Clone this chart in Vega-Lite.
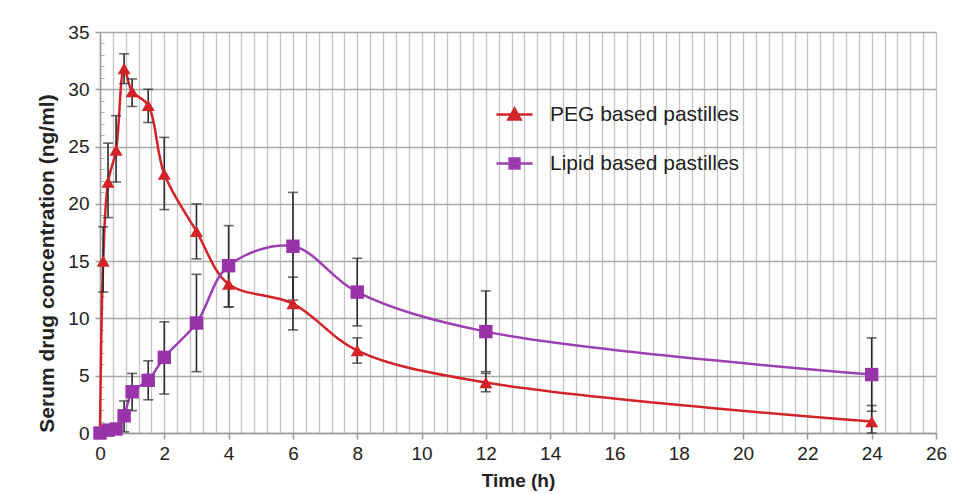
{
  "$schema": "https://vega.github.io/schema/vega-lite/v6.json",
  "width": 836,
  "height": 401,
  "autosize": "none",
  "padding": {"left": 100, "top": 32, "right": 19, "bottom": 61},
  "background": "white",
  "config": {"view": {"stroke": null}, "font": "Liberation Sans"},
  "data": {
    "values": [
      {"series": "PEG based pastilles", "t": 0, "c": 0, "lo": null, "hi": null},
      {"series": "PEG based pastilles", "t": 0.1, "c": 15.0, "lo": 12.3, "hi": 18.0},
      {"series": "PEG based pastilles", "t": 0.25, "c": 21.9, "lo": 18.8, "hi": 25.3},
      {"series": "PEG based pastilles", "t": 0.5, "c": 24.7, "lo": 21.9, "hi": 27.7},
      {"series": "PEG based pastilles", "t": 0.75, "c": 31.8, "lo": 30.5, "hi": 33.1},
      {"series": "PEG based pastilles", "t": 1, "c": 29.8, "lo": 28.5, "hi": 30.9},
      {"series": "PEG based pastilles", "t": 1.5, "c": 28.6, "lo": 27.1, "hi": 30.0},
      {"series": "PEG based pastilles", "t": 2, "c": 22.6, "lo": 19.5, "hi": 25.8},
      {"series": "PEG based pastilles", "t": 3, "c": 17.6, "lo": 15.2, "hi": 20.0},
      {"series": "PEG based pastilles", "t": 4, "c": 13.0, "lo": 11.0, "hi": 15.0},
      {"series": "PEG based pastilles", "t": 6, "c": 11.3, "lo": 9.0, "hi": 13.6},
      {"series": "PEG based pastilles", "t": 8, "c": 7.2, "lo": 6.1, "hi": 8.3},
      {"series": "PEG based pastilles", "t": 12, "c": 4.4, "lo": 3.6, "hi": 5.2},
      {"series": "PEG based pastilles", "t": 24, "c": 1.0, "lo": 0, "hi": 2.4},
      {"series": "Lipid based pastilles", "t": 0, "c": 0, "lo": null, "hi": null},
      {"series": "Lipid based pastilles", "t": 0.25, "c": 0.25, "lo": null, "hi": null},
      {"series": "Lipid based pastilles", "t": 0.5, "c": 0.35, "lo": null, "hi": null},
      {"series": "Lipid based pastilles", "t": 0.75, "c": 1.5, "lo": 0.1, "hi": 2.8},
      {"series": "Lipid based pastilles", "t": 1, "c": 3.6, "lo": 1.95, "hi": 5.2},
      {"series": "Lipid based pastilles", "t": 1.5, "c": 4.6, "lo": 2.9, "hi": 6.3},
      {"series": "Lipid based pastilles", "t": 2, "c": 6.6, "lo": 3.4, "hi": 9.7},
      {"series": "Lipid based pastilles", "t": 3, "c": 9.6, "lo": 5.35, "hi": 13.85},
      {"series": "Lipid based pastilles", "t": 4, "c": 14.6, "lo": 11.0, "hi": 18.1},
      {"series": "Lipid based pastilles", "t": 6, "c": 16.3, "lo": 11.6, "hi": 21.0},
      {"series": "Lipid based pastilles", "t": 8, "c": 12.3, "lo": 9.35, "hi": 15.25},
      {"series": "Lipid based pastilles", "t": 12, "c": 8.85, "lo": 5.35, "hi": 12.4},
      {"series": "Lipid based pastilles", "t": 24, "c": 5.1, "lo": 1.9, "hi": 8.3}
    ]
  },
  "resolve": {"axis": {"x": "independent", "y": "independent"}},
  "layer": [
    {
      "mark": {"type": "line", "interpolate": "catmull-rom", "strokeWidth": 2.5},
      "encoding": {
        "x": {"field": "t", "type": "quantitative", "scale": {"domain": [0, 26], "nice": false},
          "axis": {"orient": "bottom", "values": [0,0.4,0.8,1.2,1.6,2,2.4,2.8,3.2,3.6,4,4.4,4.8,5.2,5.6,6,6.4,6.8,7.2,7.6,8,8.4,8.8,9.2,9.6,10,10.4,10.8,11.2,11.6,12,12.4,12.8,13.2,13.6,14,14.4,14.8,15.2,15.6,16,16.4,16.8,17.2,17.6,18,18.4,18.8,19.2,19.6,20,20.4,20.8,21.2,21.6,22,22.4,22.8,23.2,23.6,24,24.4,24.8,25.2,25.6,26],
            "grid": true, "gridColor": "#c4c4c4", "gridWidth": 1.3, "labels": false, "ticks": false, "domain": false, "title": null}},
        "y": {"field": "c", "type": "quantitative", "scale": {"domain": [0, 35], "nice": false},
          "axis": {"orient": "left", "values": [0,5,10,15,20,25,30,35], "grid": true, "gridColor": "#a9a9a9", "gridWidth": 1.6, "labels": false, "ticks": false, "domain": false, "title": null}},
        "color": {"field": "series", "type": "nominal",
          "scale": {"domain": ["Lipid based pastilles", "PEG based pastilles"], "range": ["#9c3fb2", "#d42328"]}, "legend": null}
      }
    },
    {
      "transform": [{"filter": "datum.lo != null"}],
      "mark": {"type": "errorbar", "ticks": {"size": 10, "thickness": 1.6}, "thickness": 1.6, "color": "#2a2a2a"},
      "encoding": {
        "x": {"field": "t", "type": "quantitative", "axis": null},
        "y": {"field": "lo", "type": "quantitative",
          "axis": {"orient": "left", "values": [0,1,2,3,4,6,7,8,9,11,12,13,14,16,17,18,19,21,22,23,24,26,27,28,29,31,32,33,34], "tickSize": -4, "tickColor": "#b0b0b0", "tickWidth": 1, "labels": false, "domain": false, "grid": false, "title": null}},
        "y2": {"field": "hi"}
      }
    },
    {
      "transform": [{"filter": "datum.series == 'PEG based pastilles'"}],
      "mark": {"type": "point", "shape": "triangle-up", "filled": true, "size": 170, "opacity": 1, "color": "#d42328"},
      "encoding": {
        "x": {"field": "t", "type": "quantitative",
          "axis": {"orient": "bottom", "values": [0,2,4,6,8,10,12,14,16,18,20,22,24,26], "grid": false, "labelFlush": false, "domain": true, "domainColor": "#9a9a9a", "domainWidth": 1.5, "tickColor": "#9a9a9a", "tickSize": 6, "tickWidth": 1.5, "labelFontSize": 19, "labelColor": "#222", "labelPadding": 5, "title": "Time (h)", "titleFontSize": 19, "titleFontWeight": "bold", "titleColor": "#222", "titlePadding": 8}},
        "y": {"field": "c", "type": "quantitative",
          "axis": {"orient": "left", "values": [0,5,10,15,20,25,30,35], "grid": false, "labelFlush": false, "domain": true, "domainColor": "#9a9a9a", "domainWidth": 1.5, "tickColor": "#9a9a9a", "tickSize": 5, "tickWidth": 1.5, "labelFontSize": 19, "labelColor": "#222", "labelPadding": 6, "title": "Serum drug concentration (ng/ml)", "titleFontSize": 21, "titleFontWeight": "bold", "titleColor": "#222", "titlePadding": 10, "titleY": 231}}
      }
    },
    {
      "transform": [{"filter": "datum.series == 'Lipid based pastilles'"}],
      "mark": {"type": "point", "shape": "square", "filled": true, "size": 180, "opacity": 1, "color": "#9933aa"},
      "encoding": {
        "x": {"field": "t", "type": "quantitative", "axis": null},
        "y": {"field": "c", "type": "quantitative", "axis": null}
      }
    },
    {
      "mark": {"type": "point", "filled": true, "size": 0, "strokeWidth": 2.5},
      "encoding": {
        "x": {"field": "t", "type": "quantitative", "axis": null},
        "y": {"field": "c", "type": "quantitative", "axis": null},
        "fill": {"field": "series", "type": "nominal",
          "scale": {"domain": ["PEG based pastilles", "Lipid based pastilles"], "range": ["#d42328", "#9933aa"]},
          "legend": {"orient": "none", "legendX": 404, "legendY": 72, "title": null, "labelFontSize": 21, "labelColor": "#222", "labelLimit": 400, "labelOffset": 25, "rowPadding": 27, "symbolSize": 324, "symbolStrokeWidth": 2.5, "symbolOpacity": 1,
            "encode": {"symbols": {"update": {"size": {"value": 324}, "opacity": {"value": 1}, "fillOpacity": {"value": 1}, "strokeOpacity": {"value": 1}}}}}},
        "stroke": {"field": "series", "type": "nominal",
          "scale": {"domain": ["PEG based pastilles", "Lipid based pastilles"], "range": ["#d42328", "#9c3fb2"]}},
        "shape": {"field": "series", "type": "nominal",
          "scale": {"domain": ["PEG based pastilles", "Lipid based pastilles"], "range": ["M-2,0H2M-0.67,0.55L0,-0.65L0.67,0.55Z", "M-2,0H2M-0.55,-0.55H0.55V0.55H-0.55Z"]}}
      }
    }
  ]
}
